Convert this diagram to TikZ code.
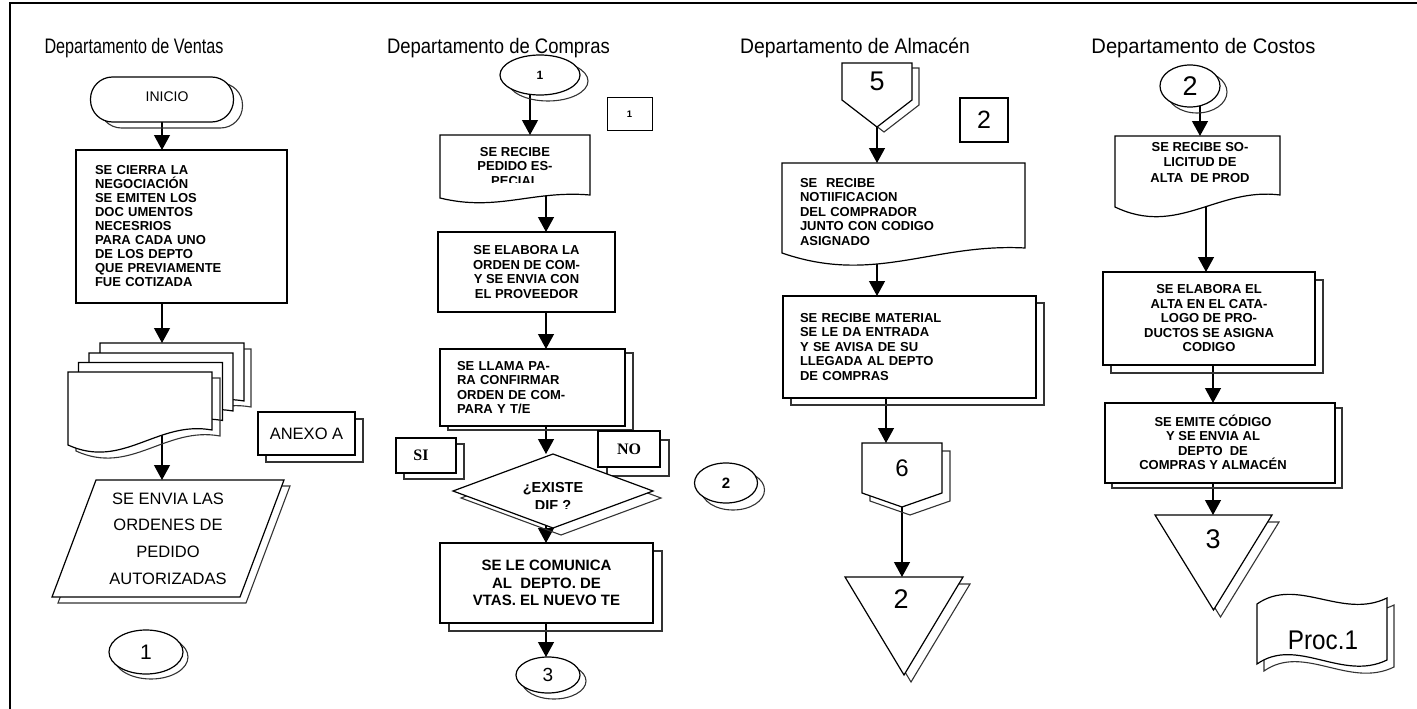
\documentclass[tikz,border=0pt]{standalone}
\usepackage{fontspec}
\setmainfont{Liberation Sans}
\newfontfamily\timesfam{Liberation Serif}
\usetikzlibrary{arrows.meta,calc}
\pgfdeclarelayer{links}
\pgfdeclarelayer{outlines}
\pgfsetlayers{links,outlines,main}

% a shape with a shifted outline copy behind it
\newcommand\shadowedpath[3][]{%
  \draw[shd,#1,transform canvas={shift={#2}}] #3;
  \draw[shp,#1] #3;}
% document symbol: rectangle with a wavy lower edge
% #1 node, #2 rise of the right end, #3/#4 wave controls
\newcommand\docpath[4]{(#1.south west) -- (#1.north west) -- (#1.north east)
  -- ($(#1.south east)+(0,-#2)$)
  .. controls ($(#1.south west)!0.62!(#1.south east)+(0,-#3)$)
  and ($(#1.south west)!0.38!(#1.south east)+(0,#4)$) .. (#1.south west) -- cycle}

\begin{document}
\begin{tikzpicture}[x=1pt,y=-1pt,
  hold/.style 2 args={minimum width=#1pt,minimum height=#2pt,inner sep=0pt,outer sep=0pt},
  shp/.style={draw=black,line width=1.2pt,fill=white,line join=miter},
  shd/.style={draw=black!80,line width=1.1pt},
  arr/.style={draw=black,line width=1.2pt,-{Triangle[width=16pt,length=15pt]}},
  ttl/.style={anchor=base,font=\fontsize{21}{24}\selectfont},
  bt/.style={font=\fontsize{13}{14.5}\selectfont\bfseries},
]
\useasboundingbox (0,0) rectangle (1417,709);
\draw[line width=1.2pt] (10,709) -- (10,3) -- (1417,3);

% column titles
\node[ttl] (h1) at (134,54) {\scalebox{0.77}[1]{Departamento de Ventas}};
\node[ttl] (h2) at (498.5,54) {\scalebox{0.88}[1]{Departamento de Compras}};
\node[ttl] (h3) at (855,54) {\scalebox{0.92}[1]{Departamento de Almacén}};
\node[ttl] (h4) at (1203.5,54) {\scalebox{0.96}[1]{Departamento de Costos}};

% ---- Ventas
\node[hold={143}{45},font=\fontsize{14}{16}\selectfont] (inicio) at (162,99.5) {\hspace*{10pt}\raisebox{6pt}{INICIO}};
\node[hold={211}{153},font=\fontsize{13}{14}\selectfont\bfseries,text width=173pt,align=left] (cierra) at (181.5,226.5)
  {SE CIERRA LA\\NEGOCIACIÓN\\SE EMITEN LOS\\DOC UMENTOS\\NECESRIOS\\PARA CADA UNO\\DE LOS DEPTO\\QUE PREVIAMENTE\\FUE COTIZADA};
\node[hold={144}{73}] (docs) at (140,408.5) {};
\coordinate (stacktop) at ($(docs.north)+(0,-29)$);
\node[hold={97}{43},font=\fontsize{16.5}{19}\selectfont] (anexo) at (306.5,433.5) {ANEXO A};
\node[hold={188}{117},align=center,font=\fontsize{16.5}{26.7}\selectfont] (envia) at (168,538.5)
  {SE ENVIA LAS\\ORDENES DE\\PEDIDO\\AUTORIZADAS};
\node[hold={74}{44},font=\fontsize{21}{24}\selectfont] (c1) at (146,652) {1};

% ---- Compras
\node[hold={80}{40},font=\fontsize{12}{14}\selectfont\bfseries] (k1) at (540,75) {1};
\node[hold={45}{32},font=\fontsize{9.5}{11}\selectfont\bfseries] (b1) at (629.5,114) {1};
\begin{scope}
  \clip (440,135) rectangle (590,182);
  \node[hold={150}{63},bt,align=center] (pedido) at (515,166.5) {SE RECIBE\\PEDIDO ES-\\PECIAL};
\end{scope}
\node[hold={177}{80},bt,align=center] (elabora) at (526.5,272)
  {SE ELABORA LA\\ORDEN DE COM-\\Y SE ENVIA CON\\EL PROVEEDOR};
\node[hold={185}{77},bt,text width=151pt,align=left] (llama) at (532.5,387.5)
  {SE LLAMA PA-\\RA CONFIRMAR\\ORDEN DE COM-\\PARA Y T/E};
\node[hold={200}{74}] (dif) at (553,491) {};
\begin{scope}
  \clip (450,450) rectangle (660,508);
  \node[font=\fontsize{14.5}{18}\selectfont\bfseries,align=center] (tdif) at (553,496) {¿EXISTE\\DIF ?};
\end{scope}
\node[hold={60}{35},font=\timesfam\bfseries\fontsize{16}{18}\selectfont] (si) at (426,455.5) {SI\hspace*{10pt}};
\node[hold={62}{36},font=\timesfam\bfseries\fontsize{16}{18}\selectfont] (no) at (629,449) {NO};
\node[hold={213}{80},align=center,font=\fontsize{15}{17.5}\selectfont\bfseries] (comunica) at (546.5,583)
  {SE LE COMUNICA\\AL\ \ DEPTO. DE\\VTAS. EL NUEVO TE};
\node[hold={64}{36},font=\fontsize{19}{21}\selectfont] (c3) at (548,675) {3};
\node[hold={63}{40},font=\fontsize{15}{17}\selectfont\bfseries] (c2) at (726,483) {2};

% ---- Almacen
\node[hold={70}{37},font=\fontsize{27}{30}\selectfont] (five) at (877,81.5) {5};
\node[hold={48}{44},font=\fontsize{25}{28}\selectfont] (b2) at (984,120) {2};
\node[hold={243}{90}] (notif) at (903.5,208) {};
\begin{scope}
  \clip (782,163) rectangle (1025,245.5);
  \node[bt,text width=207pt,align=left,inner sep=0pt] (tnotif) at (903.5,212)
    {SE\ \ RECIBE\\NOTIIFICACION\\DEL COMPRADOR\\JUNTO CON CODIGO\\ASIGNADO};
\end{scope}
\node[hold={253}{102},bt,text width=219pt,align=left] (material) at (909.5,347)
  {SE RECIBE MATERIAL\\SE LE DA ENTRADA\\Y SE AVISA DE SU\\LLEGADA AL DEPTO\\DE COMPRAS};
\node[hold={80}{50},font=\fontsize{24}{27}\selectfont] (six) at (902,468) {6};
\node[hold={118}{98}] (tri2) at (904,626) {};
\node[font=\fontsize{27}{30}\selectfont] (ttri2) at (901,599) {2};

% ---- Costos
\node[hold={60}{42},font=\fontsize{27}{30}\selectfont] (k2) at (1190,86) {2};
\node[hold={165}{71}] (solic) at (1197.5,171.5) {};
\node[font=\fontsize{13}{15.5}\selectfont\bfseries,align=center] (tsolic) at (1200,162.5)
  {SE RECIBE SO-\\LICITUD DE\\ALTA\ \ DE PROD};
\node[hold={212}{93},bt,align=center] (alta) at (1209,318.5)
  {SE ELABORA EL\\ALTA EN EL CATA-\\LOGO DE PRO-\\DUCTOS SE ASIGNA\\CODIGO};
\node[hold={230}{80}] (emite) at (1220,443) {};
\node[bt,align=center] (temite) at (1213,442.5)
  {SE EMITE CÓDIGO\\Y SE ENVIA AL\\DEPTO\ \ DE\\COMPRAS Y ALMACÉN};
\node[hold={117}{95}] (tri3) at (1213.5,562.5) {};
\node[font=\fontsize{27}{30}\selectfont] (ttri3) at (1213,539) {3};
\node[hold={130}{60}] (proc) at (1322,634) {};
\node[font=\fontsize{27}{30}\selectfont] (tproc) at (1323,640) {\scalebox{0.9}[1]{Proc.1}};

% vertical lines of the connectors
\coordinate (ax2a) at (530,0);
\coordinate (ax2) at (546,0);
\coordinate (ax3) at (886,0);
\coordinate (ax4a) at (1200,0);
\coordinate (ax4b) at (1206,0);
\coordinate (ax4c) at (1213,0);

\begin{pgfonlayer}{links}
\draw[arr] (inicio.center) -- (inicio.center |- cierra.north);
\draw[arr] (cierra.center -| inicio.center) -- (stacktop -| inicio.center);
\draw[arr] (docs.center -| inicio.center) -- (envia.north -| inicio.center);
\draw[arr] (k1.center -| ax2a) -- (pedido.north -| ax2a);
\draw[arr] (pedido.center -| ax2) -- (elabora.north -| ax2);
\draw[arr] (elabora.center -| ax2) -- (llama.north -| ax2);
\draw[arr] (llama.center -| ax2) -- (dif.north -| ax2);
\draw[arr] (dif.center -| ax2) -- (comunica.north -| ax2);
\draw[arr] (comunica.center -| ax2) -- (c3.north -| ax2);
\draw[arr] (five.center) -- (five.center |- notif.north);
\draw[arr] (notif.center -| five.center) -- (material.north -| five.center);
\draw[arr] (material.center -| ax3) -- (six.north -| ax3);
\draw[arr] (six.center) -- (six.center |- tri2.north);
\draw[arr] (k2.center -| ax4a) -- (solic.north -| ax4a);
\draw[arr] (solic.center -| ax4b) -- (alta.north -| ax4b);
\draw[arr] (alta.center -| ax4c) -- (emite.north -| ax4c);
\draw[arr] (emite.center -| ax4c) -- (tri3.north -| ax4c);
\end{pgfonlayer}

\begin{pgfonlayer}{outlines}
% Ventas
\shadowedpath[rounded corners=22pt]{(9,6)}{(inicio.north west) rectangle (inicio.south east)}
\draw[shp] (cierra.north west) rectangle (cierra.south east);
\draw[shd,transform canvas={shift={(39,-23)}}] \docpath{docs}{15}{25}{25};
\draw[shp,transform canvas={shift={(32,-29)}}] \docpath{docs}{15}{25}{25};
\draw[shp,transform canvas={shift={(21,-19)}}] \docpath{docs}{15}{25}{25};
\draw[shp,transform canvas={shift={(10.5,-9.5)}}] \docpath{docs}{15}{25}{25};
\shadowedpath{(8,6)}{\docpath{docs}{15}{25}{25}}
\shadowedpath{(8,7)}{(anexo.north west) rectangle (anexo.south east)}
\shadowedpath{(6,6)}{($(envia.north west)+(22,0)$) -- ($(envia.north east)+(22,0)$)
  -- ($(envia.south east)+(-22,0)$) -- ($(envia.south west)+(-22,0)$) -- cycle}
\shadowedpath{(5,5)}{(c1.center) ellipse [x radius=37pt,y radius=22pt]}
% Compras
\shadowedpath{(8,6)}{(k1.center) ellipse [x radius=40pt,y radius=20pt]}
\draw[shp,line width=1pt] (b1.north west) rectangle (b1.south east);
\draw[shp] \docpath{pedido}{3}{8}{14};
\draw[shp] (elabora.north west) rectangle (elabora.south east);
\shadowedpath{(8,4)}{(llama.north west) rectangle (llama.south east)}
\shadowedpath{(8,6)}{(si.north west) rectangle (si.south east)}
\shadowedpath{(9,9)}{(no.north west) rectangle (no.south east)}
\shadowedpath{(8,7)}{(dif.north) -- (dif.east) -- (dif.south) -- (dif.west) -- cycle}
\shadowedpath{(9,8)}{(comunica.north west) rectangle (comunica.south east)}
\shadowedpath{(6,6)}{(c3.center) ellipse [x radius=32pt,y radius=18pt]}
\shadowedpath{(7,7)}{(c2.center) ellipse [x radius=31.5pt,y radius=20pt]}
% Almacen
\shadowedpath{(7,5)}{(five.south west) -- (five.north west) -- (five.north east)
  -- (five.south east) -- ($(five.south)+(0,27)$) -- cycle}
\draw[shp] (b2.north west) rectangle (b2.south east);
\draw[shp] \docpath{notif}{5}{10}{32};
\shadowedpath{(8,7)}{(material.north west) rectangle (material.south east)}
\shadowedpath{(8,8)}{(six.south west) -- (six.north west) -- (six.north east)
  -- (six.south east) -- ($(six.south)+(0,14)$) -- cycle}
\shadowedpath{(7,7)}{(tri2.north west) -- (tri2.north east) -- (tri2.south) -- cycle}
% Costos
\shadowedpath{(7,6)}{(k2.center) ellipse [x radius=30pt,y radius=21pt]}
\draw[shp] \docpath{solic}{12}{20}{30};
\shadowedpath{(8,8)}{(alta.north west) rectangle (alta.south east)}
\shadowedpath{(7,5)}{(emite.north west) rectangle (emite.south east)}
\shadowedpath{(7,7)}{(tri3.north west) -- (tri3.north east) -- (tri3.south) -- cycle}
\shadowedpath{(7,7)}{(proc.north west) .. controls +(40,-28) and +(-45,22) .. ($(proc.north east)+(0,-6)$)
  -- ($(proc.south east)+(0,-4)$) .. controls +(-45,22) and +(40,-28) .. (proc.south west) -- cycle}
\end{pgfonlayer}
\end{tikzpicture}
\end{document}
